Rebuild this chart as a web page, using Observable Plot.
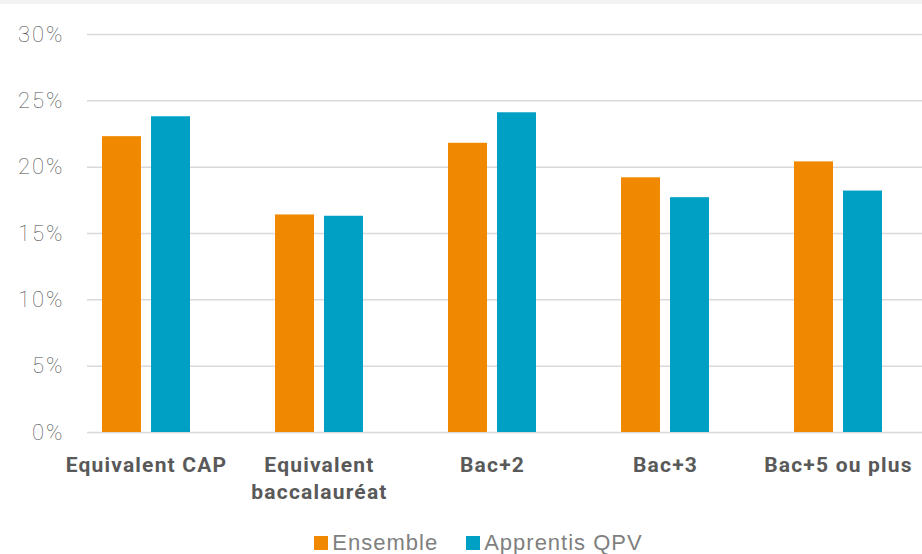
<!DOCTYPE html>
<html>
<head>
<meta charset="utf-8">
<script src="https://cdn.jsdelivr.net/npm/d3@7"></script>
<script src="https://cdn.jsdelivr.net/npm/@observablehq/plot@0.6"></script>
<style>
  html, body { margin: 0; padding: 0; background: #fff; }
  #strip { height: 4px; background: #f2f2f2; }
  #chart svg { display: block; }
  #chart g[aria-label="y-axis tick label"] text { letter-spacing: 2px; }
  #chart g[aria-label="x-axis tick label"] text { letter-spacing: 1.2px; }
  #legend {
    margin-top: 20px; height: 26px; line-height: 26px;
    display: flex; justify-content: center; padding-left: 35px;
    font-family: "Liberation Sans", Arial, sans-serif; font-size: 22px; color: #7f7f7f;
    letter-spacing: 1px;
  }
  #legend .item { display: flex; align-items: center; margin: 0 14px; }
  #legend .sw { width: 14px; height: 14px; margin-right: 4px; }
</style>
</head>
<body>
<div id="strip"></div>
<div id="chart"></div>
<div id="legend"></div>
<script>
const categories = ["Equivalent CAP", "Equivalent\nbaccalauréat", "Bac+2", "Bac+3", "Bac+5 ou plus"];
const ensemble = [22.3, 16.4, 21.8, 19.2, 20.4];
const apprentisQPV = [23.8, 16.3, 24.1, 17.7, 18.2];
const seriesNames = ["Ensemble", "Apprentis QPV"];
const seriesColors = ["#F08900", "#00A0C5"];
const yTicks = [0, 5, 10, 15, 20, 25, 30];

const ensData = categories.map((c, i) => ({cat: c, value: ensemble[i]}));
const qpvData = categories.map((c, i) => ({cat: c, value: apprentisQPV[i]}));

const chart = Plot.plot({
  width: 922,
  height: 506,
  marginTop: 30,
  marginBottom: 78,
  marginLeft: 87,
  marginRight: 0,
  style: {fontFamily: "Roboto, sans-serif", background: "#fff"},
  x: {domain: categories, paddingInner: 0.492, paddingOuter: 0.1565, align: 0.277, label: null},
  y: {domain: [0, 30], label: null},
  marks: [
    Plot.ruleY(yTicks, {stroke: "#d9d9d9", strokeWidth: 1.5}),
    Plot.barY(ensData, {x: "cat", y: "value", fill: seriesColors[0], insetRight: 49}),
    Plot.barY(qpvData, {x: "cat", y: "value", fill: seriesColors[1], insetLeft: 49}),
    Plot.axisY({ticks: yTicks, tickFormat: d => d + "%", tickSize: 0, tickPadding: 23,
      fontSize: 22, fontWeight: 100, fill: "#4d4d4d", label: null}),
    Plot.axisX({tickSize: 0, tickPadding: 20, fontSize: 21, fontWeight: "bold",
      fill: "#595959", lineHeight: 1.3, label: null})
  ]
});
document.getElementById("chart").appendChild(chart);

const legend = document.getElementById("legend");
seriesNames.forEach((name, i) => {
  const item = document.createElement("div");
  item.className = "item";
  const sw = document.createElement("span");
  sw.className = "sw";
  sw.style.background = seriesColors[i];
  const t = document.createElement("span");
  t.textContent = name;
  item.appendChild(sw);
  item.appendChild(t);
  legend.appendChild(item);
});
</script>
</body>
</html>
